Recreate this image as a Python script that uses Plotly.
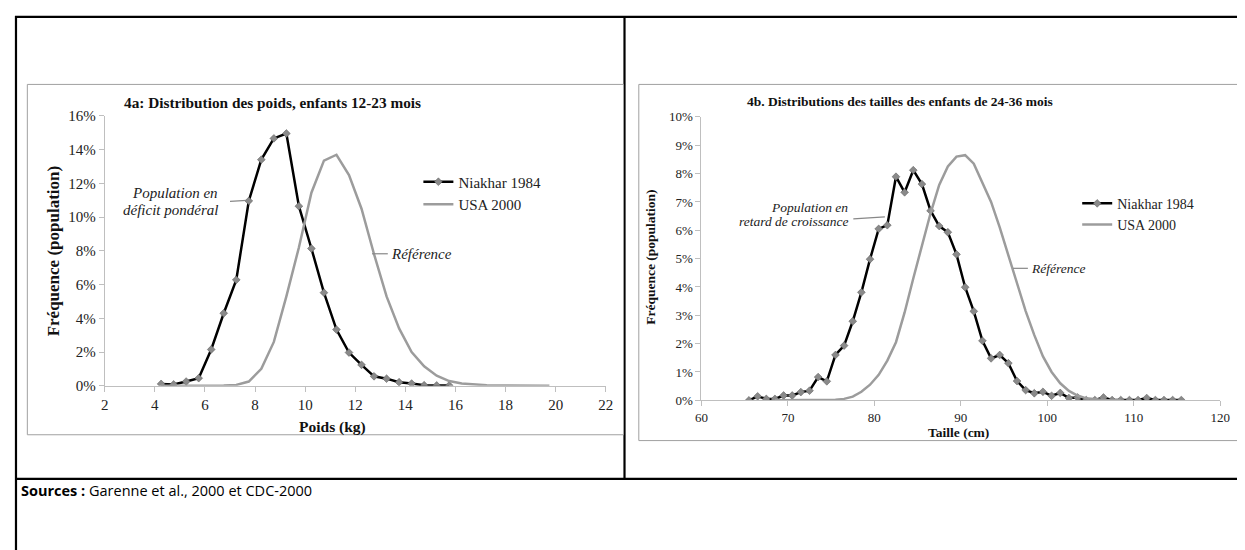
import plotly.graph_objects as go

# The page has an 8px body margin; the figure fills the rest of the window.
OFF = 8
FW, FH = 1237, 542

def px(x):
    return (x - OFF) / FW

def py(y):
    return 1 - (y - OFF) / FH

# ---------------- data ----------------
weight_niakhar_kg = [4.25, 4.75, 5.25, 5.75, 6.25, 6.75, 7.25, 7.75, 8.25, 8.75, 9.25, 9.75,
                     10.25, 10.75, 11.25, 11.75, 12.25, 12.75, 13.25, 13.75, 14.25, 14.75, 15.25, 15.75]
weight_niakhar_pct = [0.11, 0.08, 0.25, 0.45, 2.15, 4.30, 6.28, 10.96, 13.41, 14.67, 14.96, 10.65,
                      8.14, 5.52, 3.33, 1.97, 1.24, 0.56, 0.42, 0.21, 0.13, 0.03, 0.02, 0.02]

weight_usa_kg = [4.25, 4.75, 5.25, 5.75, 6.25, 6.75, 7.25, 7.75, 8.25, 8.75, 9.25, 9.75,
                 10.25, 10.75, 11.25, 11.75, 12.25, 12.75, 13.25, 13.75, 14.25, 14.75, 15.25, 15.75,
                 16.25, 16.75, 17.25, 17.75, 18.25, 18.75, 19.25, 19.75]
weight_usa_pct = [0, 0, 0, 0, 0, 0.01, 0.05, 0.25, 1.0, 2.6, 5.3, 8.2,
                  11.45, 13.35, 13.7, 12.5, 10.5, 7.8, 5.3, 3.4, 2.0, 1.15, 0.6, 0.28,
                  0.13, 0.06, 0.03, 0.01, 0, 0, 0, 0]

height_niakhar_cm = [65.5, 66.5, 67.5, 68.5, 69.5, 70.5, 71.5, 72.5, 73.5, 74.5, 75.5, 76.5,
                     77.5, 78.5, 79.5, 80.5, 81.5, 82.5, 83.5, 84.5, 85.5, 86.5, 87.5, 88.5,
                     89.5, 90.5, 91.5, 92.5, 93.5, 94.5, 95.5, 96.5, 97.5, 98.5, 99.5, 100.5,
                     101.5, 102.5, 103.5, 104.5, 105.5, 106.5, 107.5, 108.5, 109.5, 110.5, 111.5,
                     112.5, 113.5, 114.5, 115.5]
height_niakhar_pct = [0.0, 0.14, 0.05, 0.05, 0.17, 0.17, 0.29, 0.34, 0.82, 0.67, 1.60, 1.93,
                      2.79, 3.81, 4.98, 6.05, 6.18, 7.89, 7.34, 8.12, 7.63, 6.69, 6.15, 5.93,
                      5.15, 3.99, 3.14, 2.10, 1.48, 1.60, 1.31, 0.68, 0.36, 0.25, 0.30, 0.16,
                      0.26, 0.08, 0.10, 0.01, 0.01, 0.10, 0.01, 0.01, 0.01, 0.01, 0.08,
                      0.01, 0.01, 0.01, 0.01]

height_usa_cm = [68.5, 69.5, 70.5, 71.5, 72.5, 73.5, 74.5, 75.5, 76.5, 77.5, 78.5, 79.5,
                 80.5, 81.5, 82.5, 83.5, 84.5, 85.5, 86.5, 87.5, 88.5, 89.5, 90.5, 91.5,
                 92.5, 93.5, 94.5, 95.5, 96.5, 97.5, 98.5, 99.5, 100.5, 101.5, 102.5, 103.5,
                 104.5, 105.5, 106.5, 107.5, 108.5]
height_usa_pct = [0, 0, 0, 0, 0, 0, 0.01, 0.02, 0.05, 0.13, 0.30, 0.55,
                  0.90, 1.40, 2.05, 3.10, 4.30, 5.50, 6.60, 7.60, 8.25, 8.60, 8.65, 8.35,
                  7.70, 7.00, 6.10, 5.10, 4.10, 3.15, 2.30, 1.55, 1.00, 0.60, 0.33, 0.17,
                  0.07, 0.03, 0.01, 0, 0]

series_names = ["Niakhar 1984", "USA 2000"]
titles = ["4a: Distribution des poids, enfants 12-23 mois",
          "4b. Distributions des tailles des enfants de 24-36 mois"]
x_titles = ["Poids (kg)", "Taille (cm)"]
y_title = "Fréquence (population)"
weight_ticks = [2, 4, 6, 8, 10, 12, 14, 16, 18, 20, 22]
weight_pct_ticks = [0, 2, 4, 6, 8, 10, 12, 14, 16]
weight_pct_labels = ["0%", "2%", "4%", "6%", "8%", "10%", "12%", "14%", "16%"]
height_ticks = [60, 70, 80, 90, 100, 110, 120]
height_pct_ticks = [0, 1, 2, 3, 4, 5, 6, 7, 8, 9, 10]
height_pct_labels = ["0%", "1%", "2%", "3%", "4%", "5%", "6%", "7%", "8%", "9%", "10%"]

SERIF = "Liberation Serif, Times New Roman, serif"
BLACK = "#000000"
GREY_LINE = "#9C9C9C"
AX = "#BFBFBF"
TXT = "#222222"

fig = go.Figure()

marker_style = dict(symbol="diamond", size=6, color="#8A8A8A", line=dict(color="#555555", width=0.5))

fig.add_trace(go.Scatter(x=weight_niakhar_kg, y=weight_niakhar_pct, mode="lines+markers",
                         name=series_names[0], line=dict(color=BLACK, width=2.5),
                         marker=marker_style, xaxis="x", yaxis="y", legend="legend"))
fig.add_trace(go.Scatter(x=weight_usa_kg, y=weight_usa_pct, mode="lines",
                         name=series_names[1], line=dict(color=GREY_LINE, width=2.5),
                         xaxis="x", yaxis="y", legend="legend"))
fig.add_trace(go.Scatter(x=height_niakhar_cm, y=height_niakhar_pct, mode="lines+markers",
                         name=series_names[0], line=dict(color=BLACK, width=2.5),
                         marker=marker_style, xaxis="x2", yaxis="y2", legend="legend2"))
fig.add_trace(go.Scatter(x=height_usa_cm, y=height_usa_pct, mode="lines",
                         name=series_names[1], line=dict(color=GREY_LINE, width=2.5),
                         xaxis="x2", yaxis="y2", legend="legend2"))

axis_common = dict(showgrid=False, zeroline=False, showline=True, linecolor=AX, linewidth=1,
                   ticks="outside", ticklen=5, tickcolor=AX, tickwidth=1)

fig.update_layout(
    width=FW, height=FH,
    margin=dict(l=0, r=0, t=0, b=0),
    paper_bgcolor="white", plot_bgcolor="white",
    showlegend=True,
    xaxis=dict(domain=[px(99), px(607)], range=[2, 22], tickvals=weight_ticks,
               tickfont=dict(family=SERIF, size=15, color=TXT), anchor="y", **axis_common),
    yaxis=dict(domain=[py(389), py(111)], range=[0, 16], tickvals=weight_pct_ticks,
               ticktext=weight_pct_labels,
               tickfont=dict(family=SERIF, size=15, color=TXT), anchor="x", **axis_common),
    xaxis2=dict(domain=[px(704), px(1230)], range=[60, 120], tickvals=height_ticks,
                tickfont=dict(family=SERIF, size=13, color=TXT), anchor="y2", **axis_common),
    yaxis2=dict(domain=[py(404), py(112)], range=[0, 10], tickvals=height_pct_ticks,
                ticktext=height_pct_labels,
                tickfont=dict(family=SERIF, size=13, color=TXT), anchor="x2", **axis_common),
    legend=dict(x=px(417), y=py(162), xanchor="left", yanchor="top", bgcolor="rgba(0,0,0,0)",
                font=dict(family=SERIF, size=15, color=TXT), itemwidth=30, tracegroupgap=0),
    legend2=dict(x=px(1085), y=py(185), xanchor="left", yanchor="top", bgcolor="rgba(0,0,0,0)",
                 font=dict(family=SERIF, size=14, color=TXT), itemwidth=30, tracegroupgap=0),
)

shapes = []
# outer table borders (black)
for x0, y0, x1, y1 in [(8, 9, 1250, 9), (9, 8, 9, 560), (626, 8, 626, 485), (8, 485, 1250, 485)]:
    shapes.append(dict(type="line", xref="paper", yref="paper", x0=px(x0), y0=py(y0), x1=px(x1), y1=py(y1),
                       line=dict(color="black", width=2.2)))
# chart frames (grey)
shapes.append(dict(type="rect", xref="paper", yref="paper", x0=px(20.5), y0=py(78.5), x1=px(625), y1=py(439.5),
                   line=dict(color="#A0A0A0", width=1)))
shapes.append(dict(type="rect", xref="paper", yref="paper", x0=px(640.5), y0=py(78.5), x1=px(1270), y1=py(445.5),
                   line=dict(color="#A0A0A0", width=1)))
# annotation leader lines
for x0, y0, x1, y1 in [(226, 199, 243, 198), (370, 253, 386, 253), (858, 217, 890, 215), (1020, 268, 1035, 268)]:
    shapes.append(dict(type="line", xref="paper", yref="paper", x0=px(x0), y0=py(y0), x1=px(x1), y1=py(y1),
                       line=dict(color="#888888", width=1.2)))
fig.update_layout(shapes=shapes)

ann = []
def add_text(text, x, y, size, xanchor="center", bold=False, italic=False, angle=0, family=SERIF, color=TXT):
    t = text
    if bold:
        t = "<b>" + t + "</b>"
    if italic:
        t = "<i>" + t + "</i>"
    ann.append(dict(text=t, x=px(x), y=py(y), xref="paper", yref="paper", showarrow=False,
                    xanchor=xanchor, yanchor="middle", textangle=angle,
                    font=dict(family=family, size=size, color=color)))

add_text(titles[0], 269, 97, 15.3, bold=True, color="#111111")
add_text(titles[1], 905, 96, 13.5, bold=True, color="#111111")
add_text(x_titles[0], 330, 432, 15.5, bold=True, color="#111111")
add_text(x_titles[1], 965, 437, 13.5, bold=True, color="#111111")
add_text(y_title, 47, 250, 17, bold=True, angle=-90, color="#111111")
add_text(y_title, 653, 257, 13.5, bold=True, angle=-90, color="#111111")
add_text("Population en", 216, 190, 15, xanchor="right", italic=True)
add_text("déficit pondéral", 216, 208, 15, xanchor="right", italic=True)
add_text("Référence", 387, 253, 15, xanchor="left", italic=True)
add_text("Population en", 855, 205, 13.5, xanchor="right", italic=True)
add_text("retard de croissance", 855, 220, 13.5, xanchor="right", italic=True)
add_text("Référence", 1036, 268, 13.5, xanchor="left", italic=True)

ann.append(dict(text="<b>Sources :</b> Garenne et al., 2000 et CDC-2000", x=px(12), y=py(497),
                xref="paper", yref="paper", showarrow=False, xanchor="left", yanchor="middle",
                font=dict(family="Open Sans, Noto Sans, sans-serif", size=14.5, color="#000000")))
fig.update_layout(annotations=ann)

fig.write_html("out.html")
